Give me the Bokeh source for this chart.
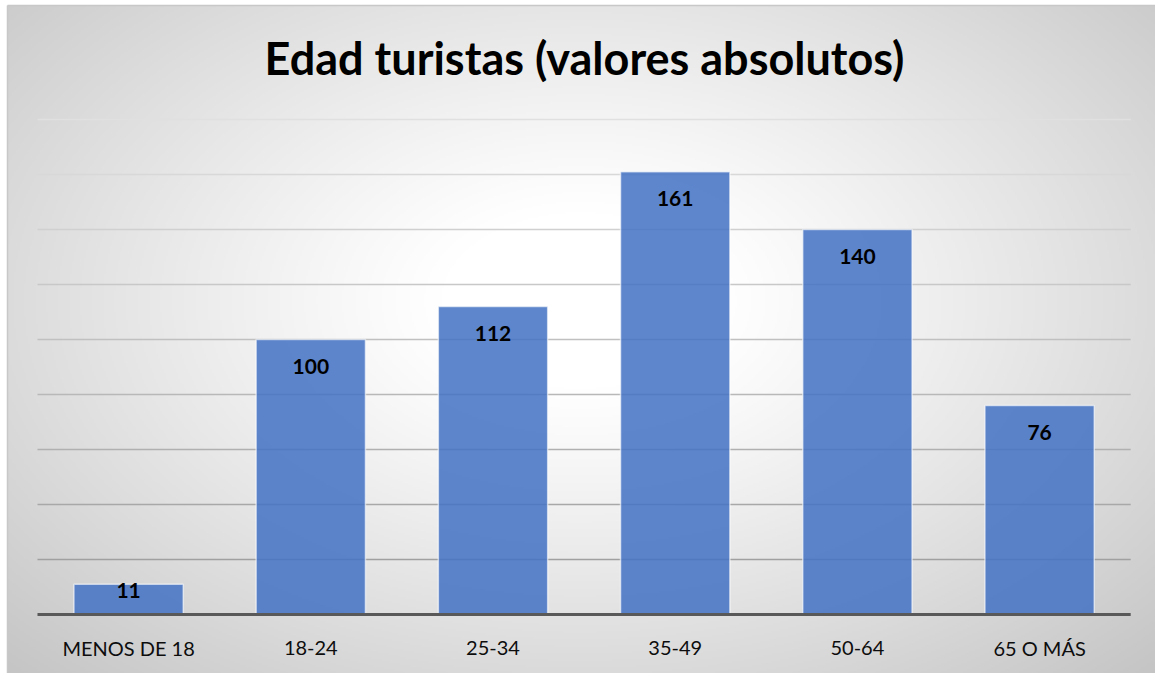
import numpy as np
from bokeh.plotting import figure
from bokeh.models import ColumnDataSource, Label, Range1d
from bokeh.core.properties import value
from bokeh.embed import file_html
from bokeh.resources import INLINE

# ---- data ----
categories = ["MENOS DE 18", "18-24", "25-34", "35-49", "50-64", "65 O MÁS"]
counts = [11, 100, 112, 161, 140, 76]
grid_values = [20, 40, 60, 80, 100, 120, 140, 160, 180]
title_text = "Edad turistas (valores absolutos)"

# ---- layout ----
W, H = 1155, 673
PX_X = 182.2          # px per category
PX_Y = 2.75           # px per unit
LEFT, BASE = 37.0, 614.0
X0, X1 = (0 - LEFT) / PX_X, (W - LEFT) / PX_X
Y0, Y1 = -(H - BASE) / PX_Y, BASE / PX_Y
FONT = "Lato"

def dx(px):
    return (px - LEFT) / PX_X

def dy(py):
    return (BASE - py) / PX_Y

p = figure(width=W, height=H, x_range=Range1d(X0, X1), y_range=Range1d(Y0, Y1),
           output_backend="svg", toolbar_location=None,
           x_axis_location=None, y_axis_location=None, min_border=0)
p.outline_line_color = None
p.background_fill_color = "white"
p.border_fill_color = "white"
p.grid.visible = False

# ---- radial gradient background (chart area starts at px 7, 5) ----
CL, CT = 7, 5
cw, ch = W - CL, H - CT
nx, ny = cw // 2, ch // 2
xs = np.linspace(CL, W, nx)
ys = np.linspace(H, CT, ny)
XX, YY = np.meshgrid(xs, ys)
cx, cy = 580.0, 300.0
d = np.sqrt(((XX - cx) / (0.55 * W)) ** 2 + ((YY - cy) / (0.6 * H)) ** 2)
g = 255 - 48 * np.clip((d - 0.22) / 0.9, 0, None) ** 1.1
g = np.clip(g, 0, 255).astype(np.uint8)
img = np.empty((ny, nx), dtype=np.uint32)
view = img.view(dtype=np.uint8).reshape((ny, nx, 4))
view[:, :, 0] = g
view[:, :, 1] = g
view[:, :, 2] = g
view[:, :, 3] = 255
p.image_rgba(image=[img], x=dx(CL), y=Y0, dw=X1 - dx(CL), dh=dy(CT) - Y0)
# chart border
p.segment(x0=[dx(CL), dx(CL)], x1=[dx(CL), X1], y0=[Y0, dy(CT)], y1=[dy(CT), dy(CT)],
          line_color="#c8c8c8", line_width=1.5)

# ---- gridlines ----
n = len(categories)
def mix(v):
    t = (v - grid_values[0]) / (grid_values[-1] - grid_values[0])
    c = int(round(0xa0 + t * (0xe0 - 0xa0)))
    return "#%02x%02x%02x" % (c, c, c)
grid_colors = [mix(v) for v in grid_values]
p.segment(x0=[0] * len(grid_values), x1=[n] * len(grid_values),
          y0=grid_values, y1=grid_values, line_color=grid_colors, line_width=1.5)

# ---- bars ----
xpos = [i + 0.5 for i in range(n)]
label_offsets = [27 if c * PX_Y > 60 else 6 for c in counts]
src = ColumnDataSource(dict(x=xpos, counts=counts, cat=categories,
                            lab=[str(c) for c in counts], yoff=label_offsets,
                            zero=[0] * n))
p.vbar(x="x", top="counts", width=0.6, source=src,
       fill_color="#4472C4", fill_alpha=0.86,
       line_color="white", line_alpha=0.6, line_width=1.5)

# baseline
p.segment(x0=[0], x1=[n], y0=[0], y1=[0], line_color="#595959", line_width=3)

# data labels
p.text(x="x", y="counts", text="lab", source=src, y_offset="yoff",
       text_align="center", text_baseline="middle",
       text_font=value(FONT), text_font_style="bold",
       text_font_size="21px", text_color="#000000")

# category labels
p.text(x="x", y="zero", text="cat", source=src, y_offset=33,
       text_align="center", text_baseline="middle",
       text_font=value(FONT), text_font_size="20px", text_color="#0d0d0d")

# title
p.add_layout(Label(x=dx(584), y=dy(57), text=title_text, text_align="center",
                   text_baseline="middle", text_font=FONT,
                   text_font_style="bold", text_font_size="45px",
                   text_color="#000000"))

open("out.html", "w").write(file_html(p, INLINE))
